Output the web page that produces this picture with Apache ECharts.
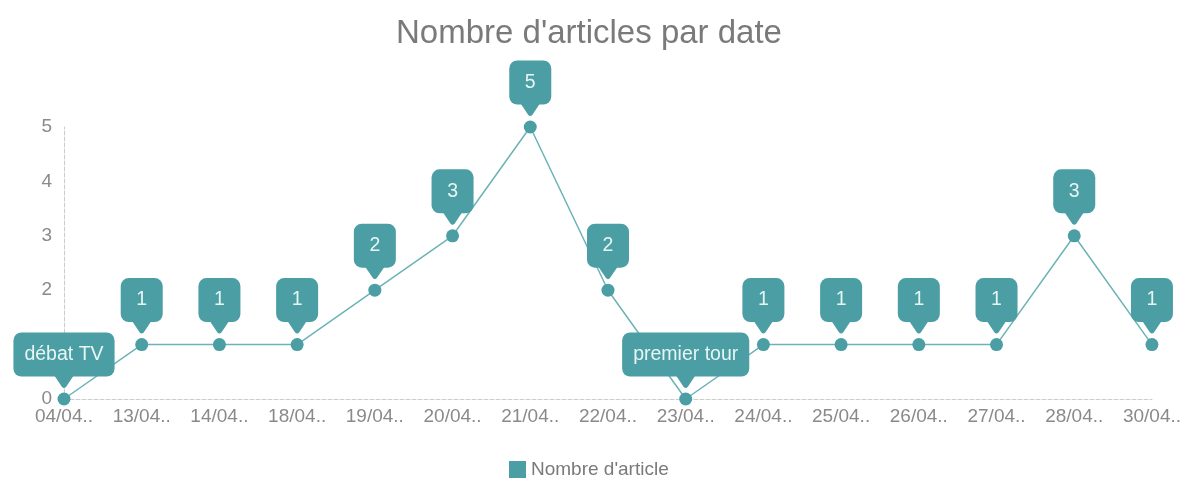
<!DOCTYPE html>
<html>
<head>
<meta charset="utf-8">
<script src="https://cdn.jsdelivr.net/npm/echarts@6/dist/echarts.min.js"></script>
<style>html,body{margin:0;padding:0;background:#fff}#c{width:1184px;height:485px}</style>
</head>
<body>
<div id="c"></div>
<script>
const categories = ['04/04..','13/04..','14/04..','18/04..','19/04..','20/04..','21/04..','22/04..','23/04..','24/04..','25/04..','26/04..','27/04..','28/04..','30/04..'];
const values = [0,1,1,1,2,3,5,2,0,1,1,1,1,3,1];
const annotations = {0: 'débat TV', 8: 'premier tour'};
const seriesName = "Nombre d'article";
const titleText = "Nombre d'articles par date";

const teal = '#4a9ea4';
const font = '"Liberation Sans", Arial, sans-serif';
const chart = echarts.init(document.getElementById('c'));
chart.setOption({
  animation: false,
  title: {text: titleText, left: 391, top: 12,
    textStyle: {fontFamily: font, fontWeight: 'normal', fontSize: 33, color: '#7a7a7a'}},
  legend: {bottom: 1, left: 504, itemWidth: 17, itemHeight: 17, icon: 'rect', itemGap: 8,
    textStyle: {fontFamily: font, fontSize: 19, color: '#7a7a7a'},
    data: [{name: seriesName, itemStyle: {color: teal}}]},
  grid: {left: 64, right: 32, top: 127, bottom: 86},
  xAxis: {type: 'category', data: categories, boundaryGap: false,
    axisLine: {lineStyle: {color: '#ccc', type: 'dashed', width: 1}},
    axisTick: {show: false},
    axisLabel: {color: '#8a8a8a', fontFamily: font, fontSize: 19, margin: 8}},
  yAxis: {type: 'value', min: 0, max: 5, interval: 1,
    axisLine: {show: true, lineStyle: {color: '#ccc', type: 'dashed', width: 1}},
    axisTick: {show: false},
    splitLine: {show: false},
    axisLabel: {color: '#8a8a8a', fontFamily: font, fontSize: 19, margin: 12}},
  series: [
    {name: seriesName, type: 'line', data: values, z: 2,
      symbol: 'circle', symbolSize: 13,
      itemStyle: {color: teal},
      lineStyle: {color: '#6bb3b7', width: 1.5},
      label: {show: true, position: 'top', distance: 16,
        formatter: p => annotations[p.dataIndex] !== undefined ? '{t|' + annotations[p.dataIndex] + '}' : '{n|' + p.value + '}',
        backgroundColor: teal, borderRadius: 8, padding: [12, 11],
        color: '#e8f5f5', fontFamily: font, fontSize: 19.5, lineHeight: 20,
        rich: {
          n: {width: 20, align: 'center', color: '#e8f5f5', fontFamily: font, fontSize: 19.5, lineHeight: 20},
          t: {color: '#e8f5f5', fontFamily: font, fontSize: 19.5, lineHeight: 20}
        }}},
    {name: 'ptr', type: 'scatter', data: values, z: 5, silent: true,
      symbol: 'path://M0,0 L20,0 L12,11 Q10,13 8,11 Z', symbolSize: [20, 13], symbolOffset: [0, -17.5],
      itemStyle: {color: teal, opacity: 1}, label: {show: false}}
  ]
});
</script>
</body>
</html>
